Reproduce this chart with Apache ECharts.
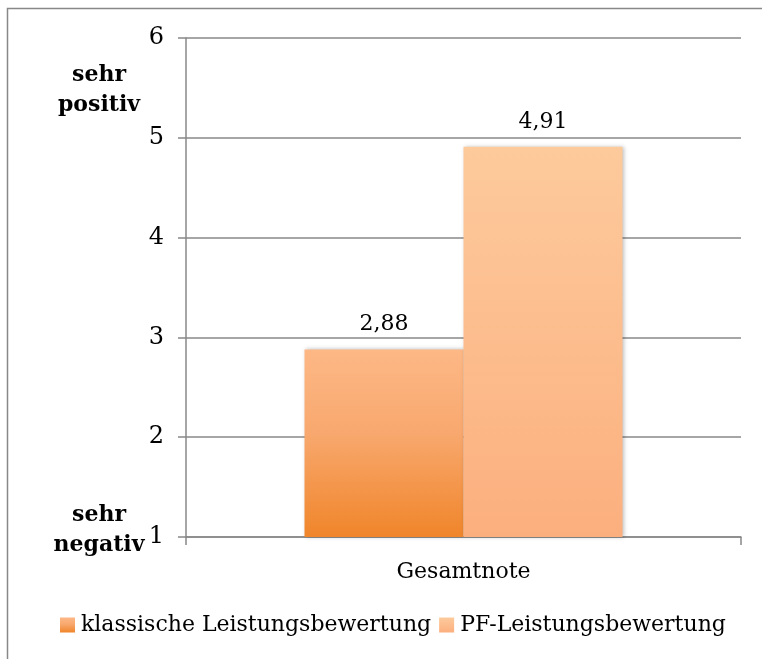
<!DOCTYPE html>
<html><head><meta charset="utf-8">
<script src="https://cdn.jsdelivr.net/npm/echarts@6/dist/echarts.min.js"></script>
<style>html,body{margin:0;padding:0;background:#fff}#c{width:762px;height:659px}</style>
</head><body><div id="c"></div>
<script>
const categories = ['Gesamtnote'];
const seriesNames = ['klassische Leistungsbewertung', 'PF-Leistungsbewertung'];
const klassisch = [2.88];
const pf = [4.91];
const yTicks = [1, 2, 3, 4, 5, 6];

const FONT = '"DejaVu Serif", "Liberation Serif", serif';
const chart = echarts.init(document.getElementById('c'), null, {renderer: 'canvas'});
const fmt = p => String(p.value).replace('.', ',');
const grad1 = new echarts.graphic.LinearGradient(0, 0, 0, 1, [
  {offset: 0, color: '#FDB886'}, {offset: 0.45, color: '#F8A86E'}, {offset: 1, color: '#F0852A'}]);
const grad2 = new echarts.graphic.LinearGradient(0, 0, 0, 1, [
  {offset: 0, color: '#FDCA9C'}, {offset: 1, color: '#FCAF7E'}]);
chart.setOption({
  animation: false,
  textStyle: {fontFamily: FONT},
  grid: {left: 186, right: 21, top: 38, bottom: 122},
  legend: {
    bottom: 18, left: 55, itemWidth: 15, itemHeight: 15, itemGap: 8,
    textStyle: {fontFamily: FONT, fontSize: 22, color: '#000', padding: [0, 0, 0, 1]},
    data: seriesNames.map(n => ({name: n, icon: 'rect'}))
  },
  xAxis: {
    type: 'category', data: categories,
    axisLine: {lineStyle: {color: '#888', width: 1.5}},
    axisTick: {show: true, length: 8, lineStyle: {color: '#888', width: 1.5}},
    axisLabel: {fontFamily: FONT, fontSize: 22, color: '#000', margin: 24}
  },
  yAxis: {
    type: 'value', min: 1, max: 6, interval: 1,
    axisLine: {show: true, lineStyle: {color: '#888', width: 1.5}},
    axisTick: {show: true, length: 8, lineStyle: {color: '#888', width: 1.5}},
    splitLine: {lineStyle: {color: '#888', width: 1.5}},
    axisLabel: {fontFamily: FONT, fontSize: 24, color: '#000', margin: 22}
  },
  series: [
    {name: seriesNames[0], type: 'bar', data: klassisch, barWidth: 159, barGap: '0%',
     itemStyle: {color: grad1, shadowColor: 'rgba(0,0,0,0.25)', shadowBlur: 4, shadowOffsetX: 1},
     label: {show: true, position: 'top', formatter: fmt, fontFamily: FONT, fontSize: 22, color: '#000', distance: 14}},
    {name: seriesNames[1], type: 'bar', data: pf, barWidth: 159, barGap: '0%',
     itemStyle: {color: grad2, shadowColor: 'rgba(0,0,0,0.25)', shadowBlur: 4, shadowOffsetX: 1},
     label: {show: true, position: 'top', formatter: fmt, fontFamily: FONT, fontSize: 22, color: '#000', distance: 14}}
  ],
  graphic: [
    {type: 'rect', shape: {x: 7.5, y: 8.5, width: 800, height: 700}, style: {fill: null, stroke: '#888', lineWidth: 1.5}, z: -10, silent: true},
    {type: 'text', x: 99, y: 60, style: {text: 'sehr\npositiv', fontFamily: FONT, fontSize: 22, fontWeight: 'bold', fill: '#000', align: 'center', verticalAlign: 'top', lineHeight: 30}, silent: true},
    {type: 'text', x: 99, y: 500, style: {text: 'sehr\nnegativ', fontFamily: FONT, fontSize: 22, fontWeight: 'bold', fill: '#000', align: 'center', verticalAlign: 'top', lineHeight: 30}, silent: true}
  ]
});
</script></body></html>
